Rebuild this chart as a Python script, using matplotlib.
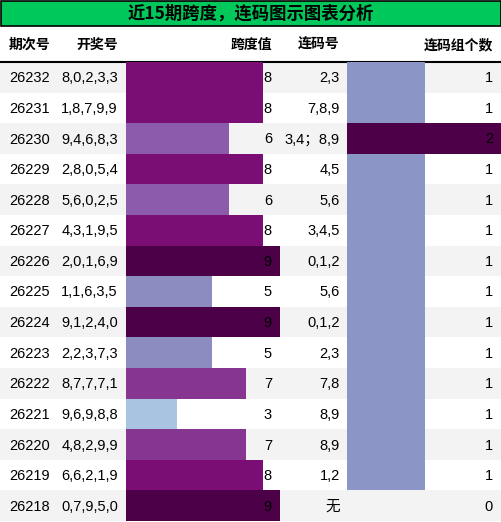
import matplotlib
matplotlib.use("Agg")
import matplotlib.pyplot as plt
from matplotlib.patches import Rectangle

periods = ["26232","26231","26230","26229","26228","26227","26226","26225","26224","26223","26222","26221","26220","26219","26218"]
draws = ["8,0,2,3,3","1,8,7,9,9","9,4,6,8,3","2,8,0,5,4","5,6,0,2,5","4,3,1,9,5","2,0,1,6,9","1,1,6,3,5","9,1,2,4,0","2,2,3,7,3","8,7,7,7,1","9,6,9,8,8","4,8,2,9,9","6,6,2,1,9","0,7,9,5,0"]
spans = [8,8,6,8,6,8,9,5,9,5,7,3,7,8,9]
links = ["2,3","7,8,9","3,4；8,9","4,5","5,6","3,4,5","0,1,2","5,6","0,1,2","2,3","7,8","8,9","8,9","1,2","无"]
counts = [1,1,2,1,1,1,1,1,1,1,1,1,1,1,0]
headers = ["期次号","开奖号","跨度值","连码号","连码组个数"]
title = "近15期跨度，连码图示图表分析"

span_colors = {9:"#4b0048",8:"#7a0e74",7:"#863691",6:"#8c5bab",5:"#8c8cc0",3:"#a9c4e0"}
count_colors = {2:"#4d0048",1:"#8c96c6",0:"#ffffff"}

W,H = 502,522
fig = plt.figure(figsize=(W/100,H/100),dpi=100)
ax = fig.add_axes([0,0,1,1])
ax.set_xlim(0,W); ax.set_ylim(H,0); ax.axis("off")
fam = ["Liberation Sans","Noto Sans CJK SC"]
cjk = ["Noto Sans CJK SC","DejaVu Sans"]

ax.add_patch(Rectangle((1,1),W-2,25,facecolor="#00c85a",edgecolor="black",lw=1.2))
ax.text(W/2,13.5,title,ha="center",va="center",fontsize=12.5,fontweight="bold",family=cjk)

top=62; n=len(periods); rh=(521-top)/n
hx=[(50,"right"),(118,"right"),(272,"right"),(339,"right"),(493,"right")]
for (x,ha),h in zip(hx,headers):
    ax.text(x,45,h,ha=ha,va="center",fontsize=10,fontweight="bold",family=cjk)
ax.plot([0,W],[top,top],color="black",lw=1.5)

for i in range(n):
    y0=top+i*rh
    if i%2==0:
        ax.add_patch(Rectangle((0,y0),W,rh,facecolor="#f3f3f3",edgecolor="none",zorder=0))

def pax(x0,x1,xmax):
    a=fig.add_axes([x0/W,(H-521)/H,(x1-x0)/W,(521-top)/H])
    a.set_xlim(0,xmax); a.set_ylim(n-0.5,-0.5); a.axis("off"); a.patch.set_alpha(0)
    return a
a1=pax(126,280,9)
a1.barh(range(n),spans,height=1.0,color=[span_colors[s] for s in spans])
a2=pax(347,502,2)
a2.barh(range(n),counts,height=1.0,color=[count_colors[c] for c in counts])

for i in range(n):
    yc=top+(i+0.5)*rh+1
    ax.text(50,yc,periods[i],ha="right",va="center",fontsize=10.5,family=fam,zorder=5)
    ax.text(118,yc,draws[i],ha="right",va="center",fontsize=10.5,family=fam,zorder=5)
    ax.text(340,yc,links[i],ha="right",va="center",fontsize=10.5,family=fam,zorder=5)
for i in range(n):
    yc=(i+0.5)*rh+1
    fig.text(272/W,1-(top+yc)/H,str(spans[i]),ha="right",va="center",fontsize=10.5,family=fam,zorder=10)
    fig.text(493/W,1-(top+yc)/H,str(counts[i]),ha="right",va="center",fontsize=10.5,family=fam,zorder=10)

fig.savefig("out.png",dpi=100)
